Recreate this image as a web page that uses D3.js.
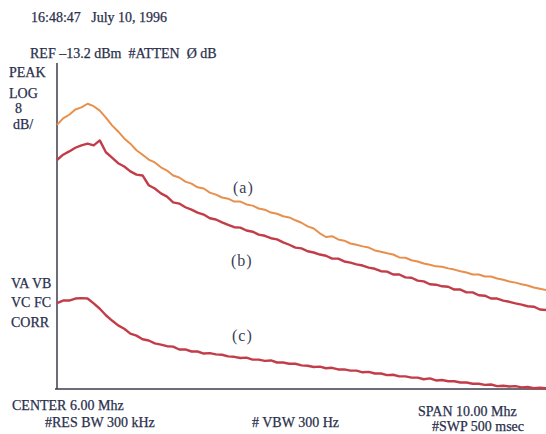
<!DOCTYPE html>
<html>
<head>
<meta charset="utf-8">
<script src="https://cdn.jsdelivr.net/npm/d3@7"></script>
<style>
  body { margin: 0; background: #fff; }
  svg { display: block; }
  .lbl { font-family: "Liberation Serif", "Times New Roman", serif; font-size: 14px; fill: #2a2f4c; stroke: #2a2f4c; stroke-width: 0.25px; }
  .lbl.tag { font-size: 16px; stroke-width: 0; fill: #3a3e58; letter-spacing: 1px; }
</style>
</head>
<body>
<script>
// spectrum analyzer sweep: CENTER 6.00 MHz, SPAN 10.00 MHz, 81 points
var freqs = d3.range(81).map(function(i) { return 1 + i * 0.125; });

// trace (a), dBm
var traceA = [-28.4,-26.8,-25.9,-24.6,-24.1,-23.2,-23.8,-24.9,-26.6,-28.5,-30.0,-31.7,-33.0,-34.6,-35.7,-36.9,
  -37.6,-38.8,-39.6,-40.8,-41.3,-42.3,-42.8,-43.7,-44.0,-45.0,-45.5,-46.2,-46.5,-47.2,-47.2,-47.9,
  -48.2,-48.9,-49.2,-49.9,-50.2,-50.8,-51.1,-51.8,-52.4,-53.3,-53.8,-55.0,-55.9,-55.7,-56.5,-56.8,
  -57.5,-57.8,-58.2,-58.5,-59.2,-59.5,-59.9,-60.2,-60.9,-61.0,-61.6,-61.9,-62.4,-62.7,-63.1,-63.2,
  -63.6,-63.9,-64.3,-64.6,-65.1,-65.1,-65.6,-65.6,-66.1,-66.4,-66.8,-67.1,-67.5,-67.8,-68.3,-68.6,-68.9];

// trace (b), dBm
var traceB = [-37.0,-35.7,-34.9,-34.0,-33.4,-33.0,-33.4,-32.2,-35.1,-36.4,-37.8,-38.6,-39.8,-40.6,-40.8,-43.2,
  -44.0,-45.2,-46.0,-47.4,-47.7,-48.6,-49.2,-49.9,-50.4,-51.3,-51.6,-52.3,-52.9,-53.5,-53.6,-54.3,
  -54.6,-55.3,-55.6,-56.2,-56.5,-57.2,-57.8,-58.5,-58.7,-59.4,-59.7,-60.2,-60.5,-61.2,-61.2,-61.9,
  -62.2,-62.6,-62.9,-63.4,-63.7,-64.3,-64.4,-65.1,-65.1,-65.8,-65.9,-66.6,-66.8,-67.5,-67.6,-68.0,
  -68.1,-68.8,-68.8,-69.5,-69.5,-70.2,-70.3,-71.0,-71.0,-71.5,-71.8,-72.2,-72.5,-72.9,-73.0,-73.7,-73.8];

// trace (c), dBm
var traceC = [-72.1,-71.5,-71.5,-71.0,-70.9,-71.0,-72.2,-73.5,-75.1,-76.4,-77.6,-78.4,-79.6,-80.1,-81.0,-81.3,
  -82.0,-82.3,-82.7,-82.8,-83.5,-83.5,-84.0,-84.0,-84.5,-84.4,-84.7,-84.8,-85.2,-85.3,-85.6,-85.5,
  -86.0,-86.0,-86.3,-86.2,-86.7,-86.7,-87.0,-87.0,-87.4,-87.5,-87.8,-87.7,-88.1,-88.0,-88.4,-88.4,
  -88.7,-88.7,-89.1,-89.0,-89.4,-89.4,-89.8,-89.7,-90.1,-90.1,-90.4,-90.4,-90.8,-90.6,-91.1,-91.0,
  -91.3,-91.3,-91.6,-91.6,-91.9,-91.9,-92.2,-92.1,-92.5,-92.4,-92.6,-92.5,-92.8,-92.7,-93.0,-92.9,-93.0];

var traces = [
  { name: "(a)", values: traceA, color: "#e88f4c", width: 2 },
  { name: "(b)", values: traceB, color: "#c23d48", width: 2.4 },
  { name: "(c)", values: traceC, color: "#c23d48", width: 2.4 }
];

// REF -13.2 dBm, 8 dB/div, 10 divisions
var refLevel = -13.2, dbPerDiv = 8, divisions = 10;

var width = 546, height = 434;

var svg = d3.select("body")
  .append("svg")
  .attr("width", width)
  .attr("height", height);

var x = d3.scaleLinear()
  .domain([1, 11])
  .range([57, 546]);

var y = d3.scaleLinear()
  .domain([refLevel - dbPerDiv * divisions, refLevel])
  .range([389, 63]);

//frame: left and bottom edges only
svg.append("line")
  .attr("x1", x(1)).attr("x2", x(1))
  .attr("y1", y(refLevel)).attr("y2", y.range()[0])
  .attr("stroke", "#3d3d4c").attr("stroke-width", 1.5);

svg.append("line")
  .attr("x1", x(1) - 2).attr("x2", x(11))
  .attr("y1", y.range()[0]).attr("y2", y.range()[0])
  .attr("stroke", "#3d3d4c").attr("stroke-width", 1.5);

var line = d3.line()
  .x(function(d, i) { return x(freqs[i]); })
  .y(function(d) { return y(d); });

svg.selectAll(".trace")
  .data(traces)
  .enter()
  .append("path")
  .attr("class", "trace")
  .attr("d", function(d) { return line(d.values); })
  .attr("fill", "none")
  .attr("stroke", function(d) { return d.color; })
  .attr("stroke-width", function(d) { return d.width; })
  .attr("stroke-linejoin", "round");

//instrument annotations
var labels = [
  { t: "16:48:47   July 10, 1996", x: 31, y: 22 },
  { t: "REF \u201313.2 dBm  #ATTEN  \u00d8 dB", x: 30, y: 58 },
  { t: "PEAK", x: 9, y: 77 },
  { t: "LOG", x: 9, y: 98 },
  { t: "8", x: 15, y: 113 },
  { t: "dB/", x: 13, y: 129 },
  { t: "VA VB", x: 11, y: 288 },
  { t: "VC FC", x: 11, y: 307 },
  { t: "CORR", x: 11, y: 327 },
  { t: "CENTER 6.00 Mhz", x: 12, y: 410 },
  { t: "#RES BW 300 kHz", x: 45, y: 427 },
  { t: "# VBW 300 Hz", x: 252, y: 427 },
  { t: "SPAN 10.00 Mhz", x: 418, y: 416 },
  { t: "#SWP 500 msec", x: 432, y: 431 },
  { t: "(a)", x: 233, y: 193, tag: true },
  { t: "(b)", x: 231, y: 266, tag: true },
  { t: "(c)", x: 232, y: 341, tag: true }
];

svg.selectAll(".lbl")
  .data(labels)
  .enter()
  .append("text")
  .attr("class", function(d) { return d.tag ? "lbl tag" : "lbl"; })
  .attr("x", function(d) { return d.x; })
  .attr("y", function(d) { return d.y; })
  .attr("xml:space", "preserve")
  .style("white-space", "pre")
  .text(function(d) { return d.t; });
</script>
</body>
</html>
